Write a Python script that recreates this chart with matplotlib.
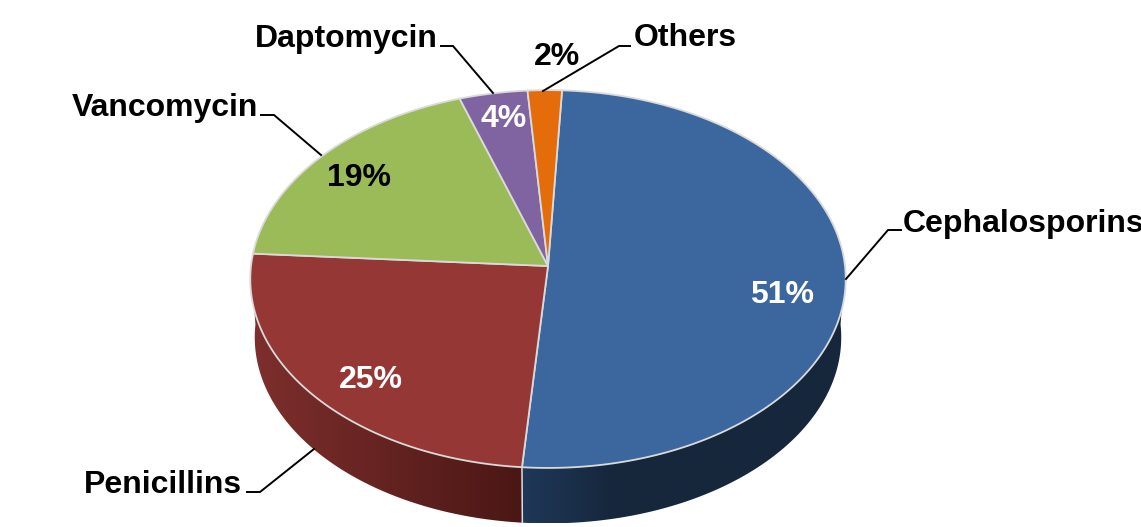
#!/usr/bin/env python
import numpy as np
import matplotlib
matplotlib.use("Agg")
import matplotlib.pyplot as plt
from matplotlib.colors import LinearSegmentedColormap
from matplotlib.patches import Polygon

categories = ["Cephalosporins", "Penicillins", "Vancomycin", "Daptomycin", "Others"]
shares = [51, 25, 19, 4, 2]
pct_labels = ["51%", "25%", "19%", "4%", "2%"]

face_colors = ["#3C679E", "#953735", "#9BBB59", "#8064A2", "#E46C0A"]
pct_colors = ["white", "white", "black", "white", "black"]
# gradient stops of each visible side wall, left to right
wall_stops = {
    0: [(0.0, "#1F3858"), (0.28, "#16273C"), (1.0, "#16273C")],
    1: [(0.0, "#7E2F2D"), (1.0, "#4A1715")],
}

# pie geometry, in pixels
CX, CY = 548.0, 266.0
SX, SY = 297.0, 188.0
TILT = 0.069
DEPTH = 58.5
BASE_SCALE = 0.985
START_DEG = 2.9

# where the percent text and category names sit
pct_pos = [(782, 295), (371, 380), (359, 178), (504, 119), (557, 57)]
name_pos = [(903, 224, "left"), (242, 485, "right"), (258, 108, "right"),
            (438, 39, "right"), (634, 38, "left")]
leaders = [
    [(846, 279), (888, 230), (901, 230)],
    [(314, 449), (260, 492), (247, 492)],
    [(321, 155), (274, 115), (261, 115)],
    [(493, 93), (453, 46), (441, 46)],
    [(543, 91), (619, 46), (630, 46)],
]


def rim(deg, scale=1.0, drop=0.0):
    # point on the tilted disc edge, angle clockwise from the back
    a = np.radians(deg)
    u, v = np.sin(a), np.cos(a)
    w = 1 + TILT * v
    return CX + scale * SX * u / w, CY + drop - scale * SY * v / w


plt.rcParams["font.family"] = ["Liberation Sans", "DejaVu Sans"]
fig = plt.figure(figsize=(11.41, 5.27), dpi=100)
ax = fig.add_axes([0, 0, 1, 1])
ax.axis("off")

edges = START_DEG + np.cumsum([0] + shares) * 360.0 / sum(shares)

# side walls first, only the front half of the disc shows them
for i, stops in wall_stops.items():
    lo, hi = max(edges[i], 90.0), min(edges[i + 1], 270.0)
    degs = np.linspace(lo, hi, 300)
    xt, yt = rim(degs)
    xb, yb = rim(degs, BASE_SCALE, DEPTH)
    outline = np.column_stack([np.r_[xt, xb[::-1]], np.r_[yt, yb[::-1]]])
    x_min, x_max = outline[:, 0].min(), outline[:, 0].max()
    y_min, y_max = outline[:, 1].min(), outline[:, 1].max()
    cmap = LinearSegmentedColormap.from_list(f"wall{i}", stops)
    gradient = np.linspace(0, 1, 256).reshape(1, -1)
    im = ax.imshow(gradient, cmap=cmap, aspect="auto", interpolation="bilinear",
                   extent=(x_min, x_max, y_max, y_min), zorder=1)
    clip = Polygon(outline, closed=True, transform=ax.transData,
                   facecolor="none", edgecolor="none")
    ax.add_patch(clip)
    im.set_clip_path(clip)

ax.set_xlim(0, 1141)
ax.set_ylim(527, 0)

# seam between the two visible walls
x0, y0 = rim(edges[1])
x1, y1 = rim(edges[1], BASE_SCALE, DEPTH)
ax.plot([x0, x1], [y0, y1], color="#D9DEE4", lw=1.1, zorder=2)

# top faces
for i in range(len(shares)):
    degs = np.linspace(edges[i], edges[i + 1], 200)
    xs, ys = rim(degs)
    pts = np.column_stack([np.r_[CX, xs], np.r_[CY, ys]])
    ax.add_patch(Polygon(pts, closed=True, facecolor=face_colors[i],
                         edgecolor="#DADADA", lw=1.3, joinstyle="round", zorder=3))

for pts in leaders:
    ax.plot(*zip(*pts), color="black", lw=1.4, solid_joinstyle="miter", zorder=4)

for (x, y), txt, col in zip(pct_pos, pct_labels, pct_colors):
    ax.text(x, y, txt, color=col, fontsize=23, fontweight="bold",
            ha="center", va="center", zorder=5)

for (x, y, ha), name in zip(name_pos, categories):
    ax.text(x, y, name, color="black", fontsize=23, fontweight="bold",
            ha=ha, va="center", clip_on=False, zorder=5)

fig.savefig("out.png", dpi=100)
